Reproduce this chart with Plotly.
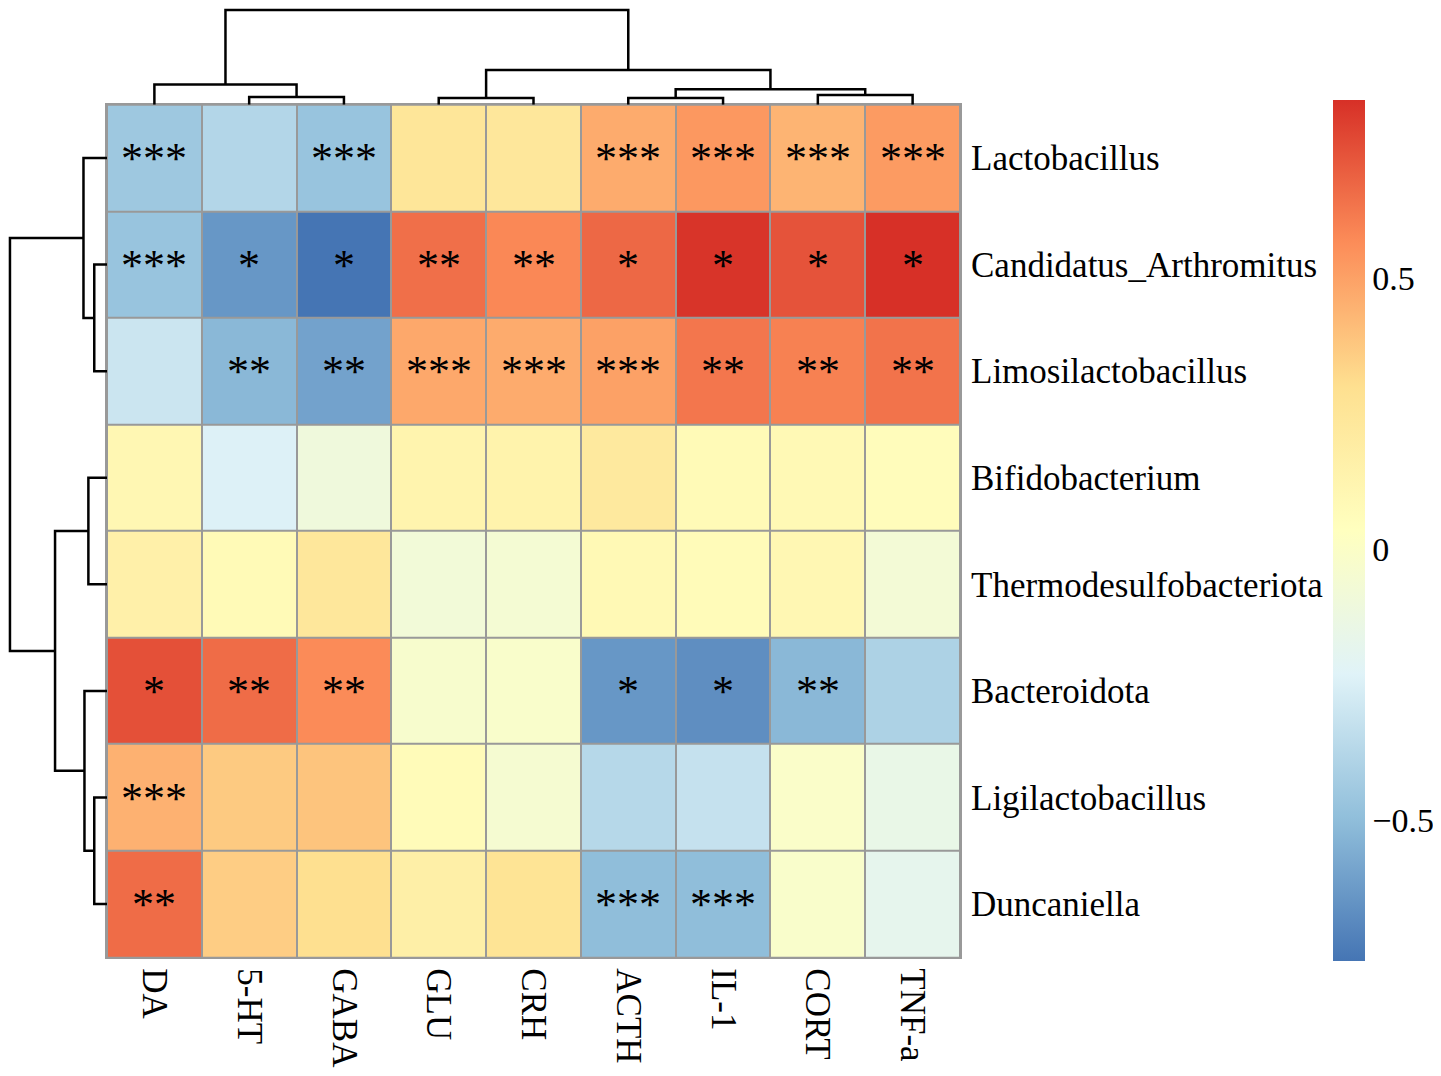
import plotly.graph_objects as go

# page is drawn with an 8px body margin, so the figure is a bit smaller
W, H = 1441, 1076
OFF = 8
FW, FH = W - 2 * OFF, H - 2 * OFF

columns = ["DA", "5-HT", "GABA", "GLU", "CRH", "ACTH", "IL-1", "CORT", "TNF-a"]
genera = ["Lactobacillus", "Candidatus_Arthromitus", "Limosilactobacillus",
          "Bifidobacterium", "Thermodesulfobacteriota", "Bacteroidota",
          "Ligilactobacillus", "Duncaniella"]

# correlation values (rows in the order of genera, columns in the order of columns)
r_lactobacillus = [-0.45, -0.38, -0.47, 0.25, 0.24, 0.47, 0.53, 0.44, 0.52]
r_candidatus = [-0.47, -0.64, -0.76, 0.65, 0.58, 0.67, 0.82, 0.73, 0.83]
r_limosilacto = [-0.30, -0.52, -0.60, 0.48, 0.47, 0.50, 0.63, 0.60, 0.64]
r_bifido = [0.10, -0.24, -0.10, 0.13, 0.14, 0.22, 0.08, 0.09, 0.06]
r_thermo = [0.16, 0.08, 0.24, -0.08, -0.06, 0.09, 0.07, 0.10, -0.07]
r_bacteroidota = [0.74, 0.66, 0.57, -0.03, -0.02, -0.64, -0.67, -0.52, -0.40]
r_ligilacto = [0.45, 0.37, 0.39, 0.07, -0.05, -0.37, -0.32, -0.01, -0.15]
r_duncaniella = [0.66, 0.36, 0.30, 0.17, 0.27, -0.50, -0.50, -0.02, -0.18]

# significance marks
s_lactobacillus = ["***", "", "***", "", "", "***", "***", "***", "***"]
s_candidatus = ["***", "*", "*", "**", "**", "*", "*", "*", "*"]
s_limosilacto = ["", "**", "**", "***", "***", "***", "**", "**", "**"]
s_bifido = ["", "", "", "", "", "", "", "", ""]
s_thermo = ["", "", "", "", "", "", "", "", ""]
s_bacteroidota = ["*", "**", "**", "", "", "*", "*", "**", ""]
s_ligilacto = ["***", "", "", "", "", "", "", "", ""]
s_duncaniella = ["**", "", "", "", "", "***", "***", "", ""]

# dendrograms: (height, left, right), leaves are indices
col_tree = (98, (21, 0, (8, 1, 2)), (36, (7, 3, 4), (16, (7, 5, 6), (10, 7, 8))))
row_tree = (99, (24, 0, (13, 1, 2)), (53, (19, 3, 4), (23, 5, (13, 6, 7))))

z = [r_lactobacillus, r_candidatus, r_limosilacto, r_bifido,
     r_thermo, r_bacteroidota, r_ligilacto, r_duncaniella]
stars = [s_lactobacillus, s_candidatus, s_limosilacto, s_bifido,
         s_thermo, s_bacteroidota, s_ligilacto, s_duncaniella]

zmin = min(min(r) for r in z)
zmax = max(max(r) for r in z)

rdylbu = ["#4575B4", "#91BFDB", "#E0F3F8", "#FFFFBF", "#FEE090", "#FC8D59", "#D73027"]
cscale = [[i / 6, c] for i, c in enumerate(rdylbu)]


def dendro_segments(node, xs, hs):
    # returns (position, height) of node; appends U-shapes
    if isinstance(node, int):
        return node, 0
    h, a, b = node
    pa, ha = dendro_segments(a, xs, hs)
    pb, hb = dendro_segments(b, xs, hs)
    xs += [pa, pa, pb, pb, None]
    hs += [ha, h, h, hb, None]
    return (pa + pb) / 2, h


cx, ch = [], []
dendro_segments(col_tree, cx, ch)
rx, rh = [], []
dendro_segments(row_tree, rx, rh)


def px(v):
    return (v - OFF) / FW


def py(v):
    return 1 - (v - OFF) / FH


font_family = "Liberation Serif, Times New Roman, serif"

fig = go.Figure()

fig.add_trace(go.Heatmap(
    z=z,
    x=list(range(len(columns))),
    y=list(range(len(genera))),
    text=stars,
    texttemplate="%{text}",
    textfont=dict(family=font_family, size=44, color="black"),
    colorscale=cscale,
    zmin=zmin, zmax=zmax,
    xgap=2, ygap=2,
    colorbar=dict(
        x=px(1333), xanchor="left", xref="paper",
        y=py(100), yanchor="top", yref="paper",
        len=863 / FH, lenmode="fraction",
        thickness=32, outlinewidth=0,
        xpad=0, ypad=0,
        tickvals=[-0.5, 0, 0.5], ticktext=["\u22120.5", "0", "0.5"],
        ticks="", ticklabelposition="outside",
        tickfont=dict(family=font_family, size=34, color="black"),
    ),
    hoverinfo="skip",
))

fig.add_trace(go.Scatter(x=cx, y=ch, mode="lines", xaxis="x2", yaxis="y2",
                         line=dict(color="black", width=2.5), showlegend=False,
                         hoverinfo="skip"))
fig.add_trace(go.Scatter(x=rh, y=rx, mode="lines", xaxis="x3", yaxis="y3",
                         line=dict(color="black", width=2.5), showlegend=False,
                         hoverinfo="skip"))

hx = [px(107), px(960)]
hy = [py(960), py(105)]

# grey cell borders behind the gapped heatmap
fig.add_shape(type="rect", xref="x domain", yref="y domain", x0=0, x1=1, y0=0, y1=1,
              fillcolor="#999999", line=dict(width=0), layer="below")

fig.update_layout(
    width=FW, height=FH,
    margin=dict(l=0, r=0, t=0, b=0),
    paper_bgcolor="white",
    plot_bgcolor="white",
    font=dict(family=font_family, color="black"),
    showlegend=False,
    xaxis=dict(domain=hx, range=[-0.5, len(columns) - 0.5],
               tickvals=list(range(len(columns))), ticktext=columns,
               tickangle=90, side="bottom", ticks="", ticklabelstandoff=2,
               tickfont=dict(size=35, family=font_family, color="black"),
               showgrid=False, zeroline=False, showline=True, mirror=True,
               linecolor="#999999", linewidth=2, anchor="y"),
    yaxis=dict(domain=hy, range=[len(genera) - 0.5, -0.5],
               tickvals=list(range(len(genera))), ticktext=genera,
               side="right", ticks="", ticklabelstandoff=2,
               tickfont=dict(size=35, family=font_family, color="black"),
               showgrid=False, zeroline=False, showline=True, mirror=True,
               linecolor="#999999", linewidth=2, anchor="x"),
    xaxis2=dict(domain=hx, range=[-0.5, len(columns) - 0.5], visible=False,
                anchor="y2"),
    yaxis2=dict(domain=[hy[1], 1.0], range=[0, 100], visible=False, anchor="x2"),
    xaxis3=dict(domain=[0, hx[0]], range=[101, 0], visible=False, anchor="y3"),
    yaxis3=dict(domain=hy, range=[len(genera) - 0.5, -0.5], visible=False,
                anchor="x3"),
)

fig.write_html("out.html")
